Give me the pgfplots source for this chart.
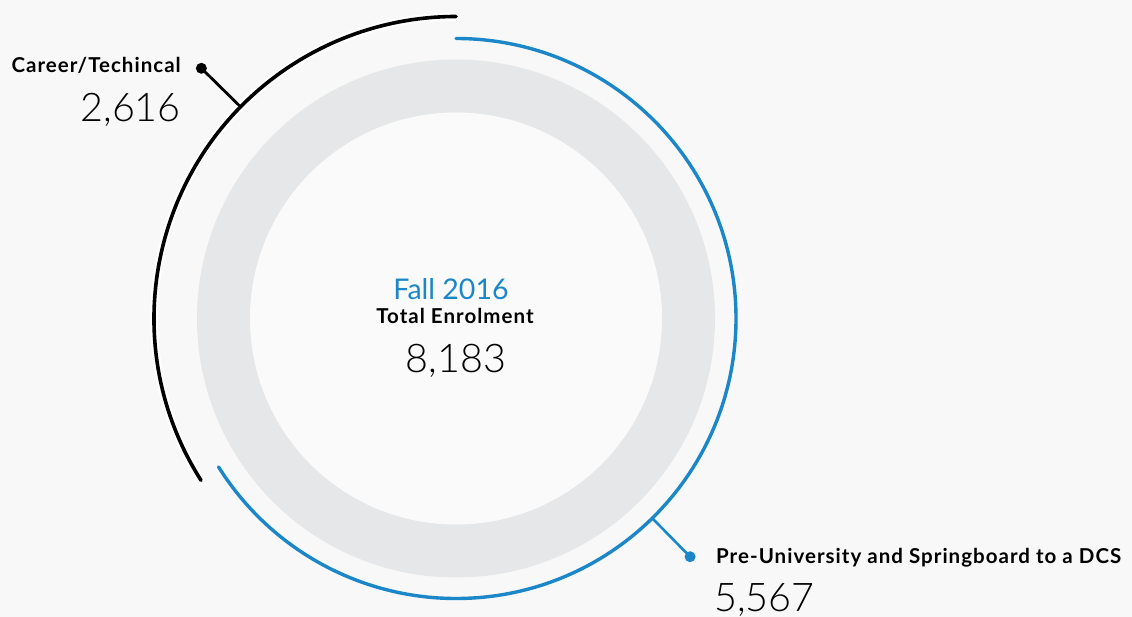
\documentclass[border=0pt]{standalone}
\usepackage{pgfplots}
\pgfplotsset{compat=1.18}
\usepackage{fontspec}
\setmainfont{Lato}
\newfontfamily\lightfont{Lato}[UprightFont={* Light}]
\newfontfamily\labelfont{Lato}[UprightFont={* Bold}, LetterSpace=5]
\definecolor{dcsblue}{HTML}{1B87C9}
\definecolor{ringgray}{HTML}{E6E7E8}
\definecolor{bggray}{HTML}{F8F8F8}

% enrolment, Fall 2016
\pgfplotstableread{
name   value  startangle endangle radius
career 2616   212.4      90       302
preuni 5567   90         -148     280
}\enrolment

\begin{document}
\begin{tikzpicture}
\begin{axis}[
  scale only axis,
  width=1132pt, height=617pt,
  xmin=0, xmax=1132, ymin=0, ymax=617,
  y dir=reverse,
  hide axis,
  clip=false,
]
\fill[bggray] (axis cs:0,0) rectangle (axis cs:1132,617);
\coordinate (c) at (axis cs:456,318.5);
% gray ring
\fill[ringgray, even odd rule] (c) circle[radius=259pt] (c) circle[radius=206pt];
\fill[white, opacity=0.4] (c) circle[radius=206pt];
% career / technical arc (white halo)
\draw[white, line width=8pt, line cap=round] (c) ++(212.4:302pt) arc[start angle=212.4, end angle=90, radius=302pt];
\draw[black, line width=3.6pt, line cap=round] (c) ++(212.4:302pt) arc[start angle=212.4, end angle=90, radius=302pt];
% pre-university arc
\draw[dcsblue, line width=3.4pt, line cap=round] (c) ++(90:280pt) arc[start angle=90, end angle=-148, radius=280pt];
% leaders
\draw[black, line width=2.8pt] (c) ++(135.5:302pt) -- ++(135.5:55pt) coordinate (kd);
\fill[black] (kd) circle[radius=5.5pt];
\draw[dcsblue, line width=2.6pt] (c) ++(-45.5:280pt) -- ++(-45.5:54pt) coordinate (bd);
\fill[dcsblue] (bd) circle[radius=5.5pt];
% labels
\node[anchor=base east, inner sep=0pt, font=\labelfont\fontsize{20.5}{21}\selectfont] at (axis cs:181,73) {Career/Techincal};
\node[anchor=base east, inner sep=0pt, font=\lightfont\fontsize{39.5}{40}\selectfont] at (axis cs:181,122) {2,616};
\node[anchor=base west, inner sep=0pt, font=\labelfont\fontsize{20.5}{21}\selectfont] at (axis cs:716,563) {Pre-University and Springboard to a DCS};
\node[anchor=base west, inner sep=0pt, font=\lightfont\fontsize{39.5}{40}\selectfont] at (axis cs:714,611) {5,567};
\node[anchor=base, inner sep=0pt, text=dcsblue, font=\fontsize{28.5}{29}\selectfont] at (axis cs:451,300) {Fall 2016};
\node[anchor=base, inner sep=0pt, font=\labelfont\fontsize{20.5}{21}\selectfont] at (axis cs:455,324) {Total Enrolment};
\node[anchor=base, inner sep=0pt, font=\lightfont\fontsize{39.5}{40}\selectfont] at (axis cs:456,372) {8,183};
\coordinate (SW) at (axis cs:0,617);
\coordinate (NE) at (axis cs:1132,0);
\end{axis}
\pgfresetboundingbox
\path[use as bounding box] (SW) rectangle (NE);
\end{tikzpicture}
\end{document}
